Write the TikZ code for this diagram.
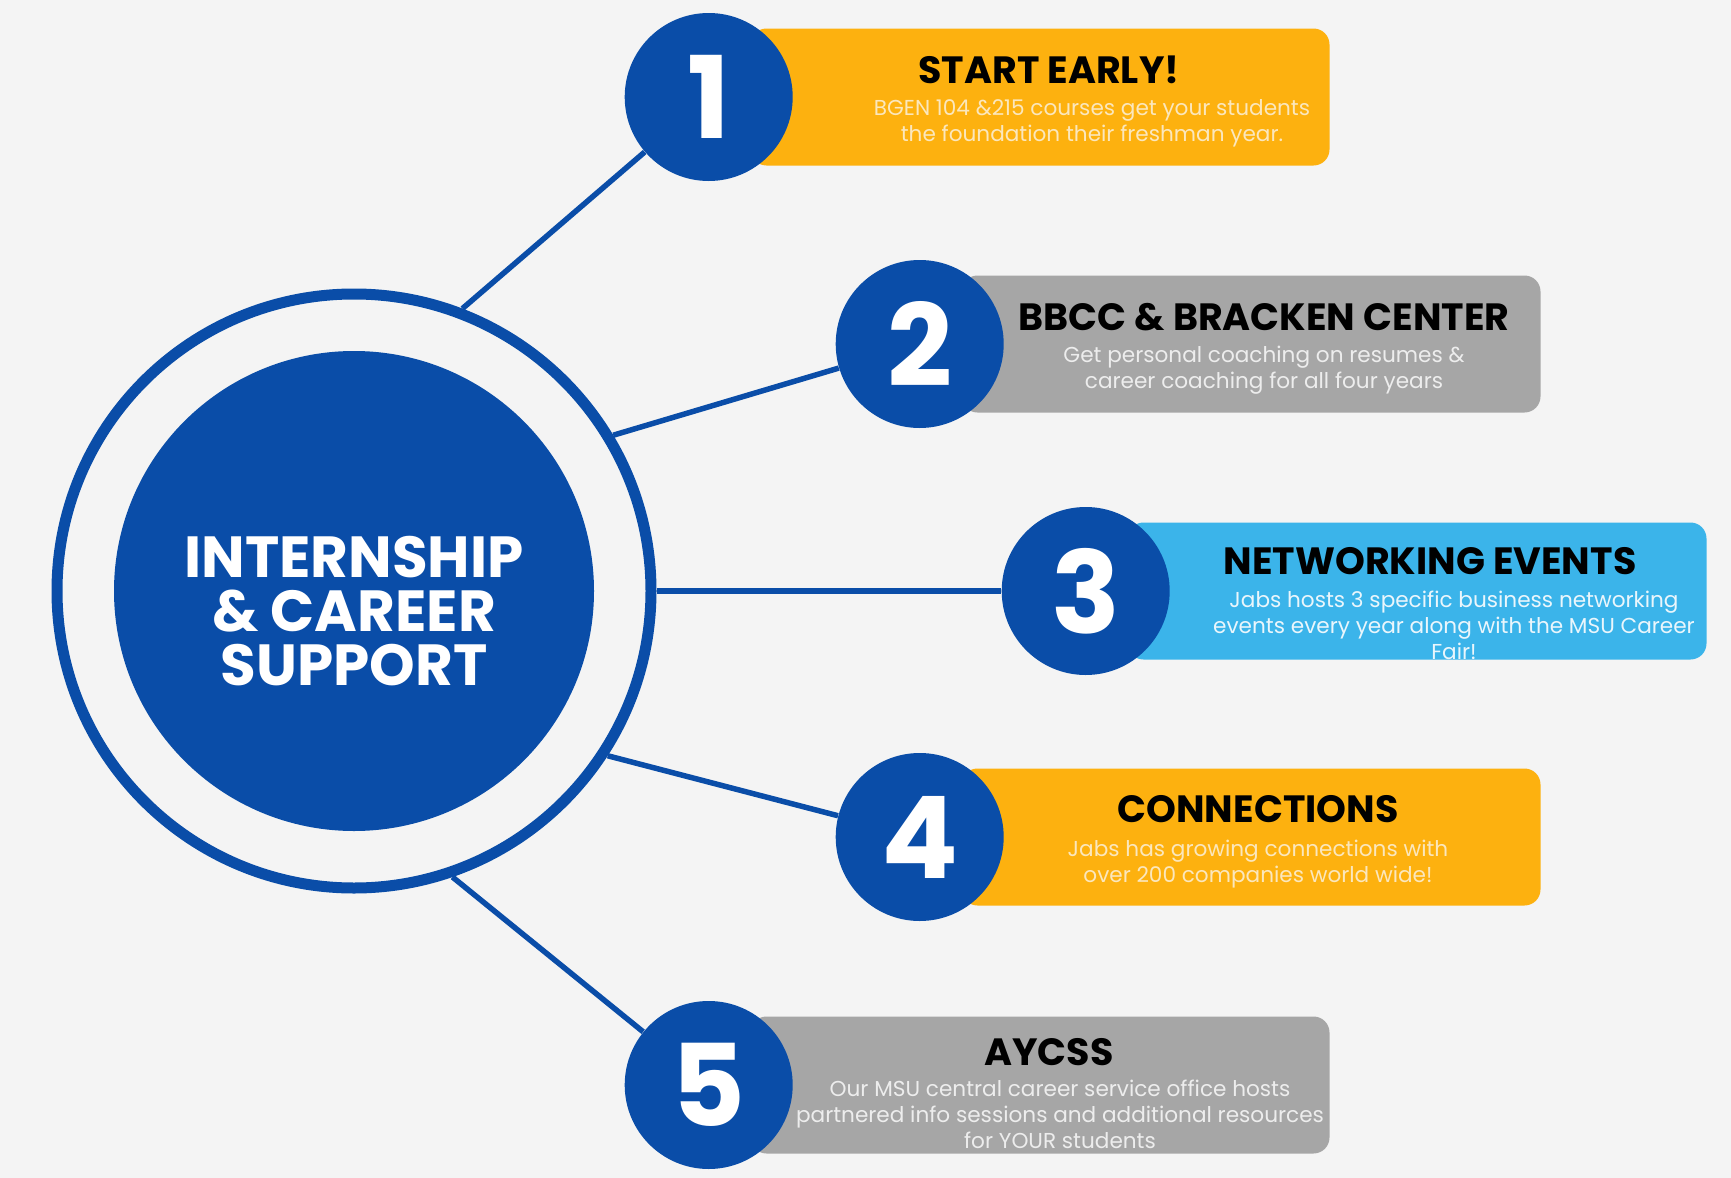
\documentclass[tikz,border=0pt]{standalone}
\usepackage{fontspec}
\setmainfont{Poppins}
\usetikzlibrary{positioning}
\usepackage{xcolor}
\definecolor{bggray}{HTML}{F4F4F4}
\definecolor{hubblue}{HTML}{0A4DA8}
\definecolor{earlycol}{HTML}{FDB10F}
\definecolor{brackencol}{HTML}{A6A6A6}
\definecolor{networkcol}{HTML}{3BB4EA}
\definecolor{connectcol}{HTML}{FDB10F}
\definecolor{aycsscol}{HTML}{A6A6A6}
\definecolor{blurborange}{HTML}{FBE7BD}
\definecolor{blurbgray}{HTML}{EDEDED}
\definecolor{blurbblue}{HTML}{EAF6FC}

\begin{document}
\begin{tikzpicture}[x=0.5pt, y=-0.5pt,
  stepbox/.style={rectangle, rounded corners=8pt, minimum width=289.5pt, minimum height=68.5pt, inner sep=0pt},
  numdot/.style={circle, fill=hubblue, minimum size=84pt, inner sep=0pt, text=white, font=\fontsize{57}{57}\selectfont\bfseries},
  head/.style={font=\fontsize{19}{22}\selectfont\bfseries, text=black, inner sep=0pt},
  blurb/.style={font=\fontsize{10.8}{13}\selectfont, align=center, inner sep=0pt},
  spoke/.style={draw=hubblue, line width=2.75pt}]

\fill[bggray] (0,0) rectangle (1731,1178);
\useasboundingbox (0,0) rectangle (1731,1178);

% boxes, with the number discs over their left ends
\node[stepbox, fill=earlycol] (early) at (1040,97) {};
\node[numdot, left=-21.5pt of early] (n1) {1};
\node[stepbox, fill=brackencol] (bracken) at (1251,344) {};
\node[numdot, left=-21.5pt of bracken] (n2) {2};
\node[stepbox, fill=networkcol] (network) at (1417,591) {};
\node[numdot, left=-21.5pt of network] (n3) {3};
\node[stepbox, fill=connectcol] (connect) at (1251,837) {};
\node[numdot, left=-21.5pt of connect] (n4) {4};
\node[stepbox, fill=aycsscol] (aycss) at (1040,1085) {};
\node[numdot, left=-21.5pt of aycss] (n5) {5};

\node[head] (earlyhead) at (1049,70) {START EARLY!};
\node[blurb, text=blurborange] (earlytext) at (1092,123) {BGEN 104 \&215 courses get your students\\the foundation their freshman year.};
\node[head] (brackenhead) at (1264,317) {BBCC \& BRACKEN CENTER};
\node[blurb, text=blurbgray] (brackentext) at (1264,370) {Get personal coaching on resumes \&\\career coaching for all four years};
\node[head] (networkhead) at (1430,561) {NETWORKING EVENTS};
\node[blurb, text=blurbblue] (networktext) at (1454,625) {Jabs hosts 3 specific business networking\\events every year along with the MSU Career\\Fair!};
\node[head] (connecthead) at (1258,809) {CONNECTIONS};
\node[blurb, text=blurborange] (connecttext) at (1258,864) {Jabs has growing connections with\\over 200 companies world wide!};
\node[head] (aycsshead) at (1049,1052) {AYCSS};
\node[blurb, text=blurbgray] (aycsstext) at (1060,1114) {Our MSU central career service office hosts\\partnered info sessions and additional resources\\for YOUR students};

% hub
\node[circle, draw=hubblue, line width=5.5pt, minimum size=297pt] (hub) at (354,591) {};
\node[circle, fill=hubblue, minimum size=240pt] (core) at (hub) {};
\node[font=\fontsize{29}{27}\selectfont\bfseries, text=white, align=center] (title) at (354,611) {INTERNSHIP\\\& CAREER\\SUPPORT};

\draw[spoke] (hub.69) -- (n1);
\draw[spoke] (hub.31) -- (n2);
\draw[spoke] (hub.0) -- (n3);
\draw[spoke] (hub.-33) -- (n4);
\draw[spoke] (hub.-71) -- (n5);
\end{tikzpicture}
\end{document}
